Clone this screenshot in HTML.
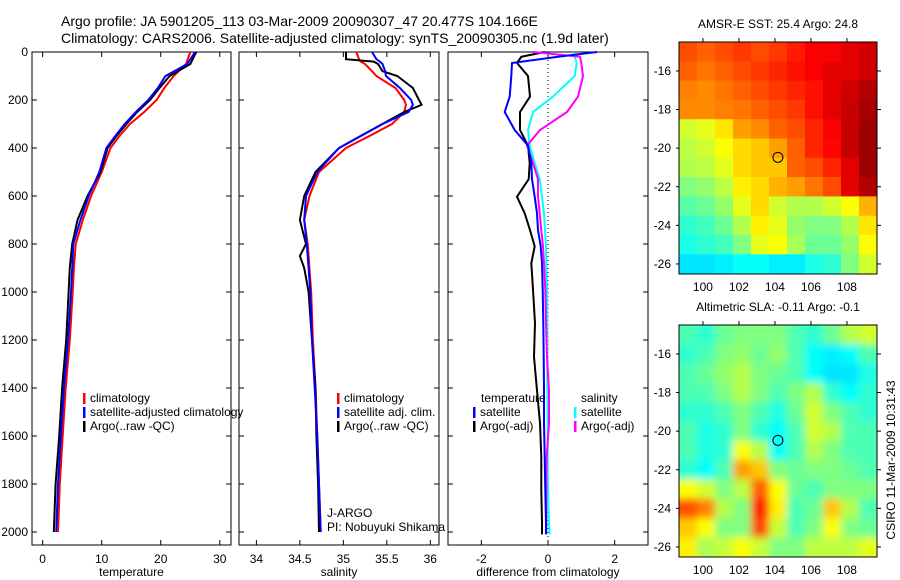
<!DOCTYPE html>
<html><head><meta charset="utf-8">
<style>
body{margin:0;background:#fff;}
svg{display:block;font-family:"Liberation Sans",sans-serif;}
</style></head>
<body>
<svg id="chart" width="900" height="580" viewBox="0 0 900 580">
<text x="61" y="26" font-size="14">Argo profile: JA 5901205_113 03-Mar-2009 20090307_47 20.477S 104.166E</text>
<text x="61" y="43" font-size="14">Climatology: CARS2006. Satellite-adjusted climatology: synTS_20090305.nc (1.9d later)</text>
</svg>
<script>
// ---------- data ----------
const tDepth = [0,50,100,150,200,250,300,350,400,500,600,700,800,900,1000,1200,1400,1600,1800,2000];
const tClim  = [25,24.3,22.2,20.6,19.3,17.2,14.8,13.0,11.5,10.0,8.2,6.8,5.6,5.3,5.1,4.6,3.9,3.4,2.9,2.6];
const tSat   = [25.8,24.5,20.8,19.5,17.9,15.8,13.9,12.3,10.8,9.6,7.8,6.4,5.2,5.0,4.8,4.3,3.6,3.1,2.6,2.3];
const tArgo  = [26.0,25.0,21.5,19.8,18.2,16.0,14.2,12.5,11.0,9.8,7.6,5.9,5.0,4.6,4.4,4.0,3.3,2.8,2.2,1.9];
const sDepth = [0,30,40,50,80,100,150,200,220,250,300,350,400,500,600,700,800,850,900,1000,1200,1400,1600,1800,2000];
const sClim  = [35.15,35.18,35.2,35.25,35.33,35.38,35.6,35.7,35.72,35.7,35.56,35.3,35.03,34.72,34.61,34.55,34.59,34.6,34.61,34.63,34.65,34.68,34.7,34.72,34.74];
const sSat   = [35.33,35.38,35.42,35.45,35.48,35.49,35.65,35.78,35.8,35.75,35.45,35.2,34.95,34.7,34.57,34.55,34.58,34.59,34.6,34.62,34.64,34.67,34.7,34.72,34.74];
const sArgo  = [35.03,35.03,35.35,35.4,35.45,35.62,35.8,35.87,35.9,35.7,35.45,35.2,34.95,34.68,34.55,34.5,34.57,34.5,34.55,34.6,34.64,34.68,34.69,34.71,34.72];
const dDepth = [0,20,46,100,186,250,325,390,463,530,603,672,742,810,880,990,1130,1270,1410,1546,1687,1825,1962,2010];
const dTempSat  = [1.47,0.3,-1.08,-1.1,-1.15,-1.3,-1.0,-0.6,-0.5,-0.48,-0.4,-0.33,-0.3,-0.22,-0.18,-0.16,-0.14,-0.13,-0.12,-0.12,-0.1,-0.08,-0.06,-0.06];
const dTempArgo = [-0.1,-0.8,-0.93,-0.6,-0.54,-0.84,-0.84,-0.6,-0.55,-0.58,-0.93,-0.7,-0.54,-0.4,-0.5,-0.45,-0.39,-0.42,-0.33,-0.24,-0.2,-0.2,-0.18,-0.18];
const dSalSat   = [0.75,0.8,0.86,0.8,0.15,-0.45,-0.6,-0.55,-0.4,-0.25,-0.18,-0.12,-0.09,-0.06,-0.05,-0.03,-0.02,-0.02,-0.02,-0.01,-0.01,0.0,0.03,0.05];
const dSalArgo  = [-0.45,0.96,1.0,1.05,0.9,0.57,-0.24,-0.63,-0.45,-0.3,-0.3,-0.25,-0.2,-0.15,-0.12,-0.08,-0.06,-0.03,0.03,0.03,-0.04,-0.05,-0.05,-0.05];
const depthTicks = [0,200,400,600,800,1000,1200,1400,1600,1800,2000];
const tempTicks = [0,10,20,30];
const salTicks = [34,34.5,35,35.5,36];
const salTickLabels = ["34","34.5","35","35.5","36"];
const diffTicks = [-2,0,2];
const lonTicks = [100,102,104,106,108];
const latTicks = [-16,-18,-20,-22,-24,-26];
const sstGrid = [
[0.8,0.78,0.8,0.82,0.8,0.82,0.85,0.88,0.88,0.9,0.92],
[0.78,0.76,0.78,0.8,0.82,0.84,0.86,0.88,0.9,0.9,0.92],
[0.75,0.74,0.76,0.78,0.8,0.82,0.84,0.86,0.9,0.92,0.95],
[0.74,0.74,0.75,0.76,0.78,0.8,0.82,0.86,0.9,0.93,0.96],
[0.58,0.6,0.65,0.72,0.74,0.78,0.8,0.84,0.88,0.93,0.97],
[0.56,0.58,0.62,0.66,0.68,0.72,0.78,0.84,0.87,0.93,0.97],
[0.55,0.56,0.6,0.66,0.68,0.68,0.78,0.8,0.84,0.9,0.97],
[0.5,0.52,0.56,0.64,0.66,0.7,0.72,0.76,0.8,0.9,0.95],
[0.46,0.48,0.52,0.6,0.66,0.58,0.55,0.55,0.58,0.62,0.7],
[0.42,0.44,0.48,0.55,0.64,0.6,0.52,0.5,0.5,0.55,0.65],
[0.4,0.42,0.44,0.5,0.6,0.62,0.54,0.48,0.48,0.52,0.62],
[0.35,0.35,0.36,0.38,0.38,0.36,0.36,0.4,0.42,0.5,0.58]];
const slaGrid = [
[0.45,0.42,0.48,0.5,0.5,0.5,0.45,0.42,0.48,0.55,0.58],
[0.42,0.45,0.5,0.52,0.48,0.52,0.45,0.38,0.36,0.38,0.45],
[0.45,0.48,0.52,0.55,0.5,0.48,0.45,0.38,0.35,0.35,0.4],
[0.45,0.45,0.5,0.55,0.5,0.45,0.5,0.55,0.42,0.38,0.42],
[0.42,0.42,0.45,0.5,0.45,0.4,0.48,0.58,0.5,0.45,0.42],
[0.45,0.4,0.42,0.5,0.42,0.38,0.45,0.58,0.55,0.45,0.45],
[0.45,0.4,0.42,0.62,0.55,0.38,0.45,0.55,0.5,0.45,0.45],
[0.42,0.38,0.45,0.72,0.68,0.5,0.48,0.5,0.5,0.48,0.45],
[0.62,0.58,0.5,0.56,0.78,0.62,0.48,0.45,0.5,0.5,0.5],
[0.8,0.75,0.55,0.5,0.85,0.64,0.45,0.48,0.68,0.55,0.45],
[0.68,0.62,0.5,0.5,0.8,0.57,0.45,0.5,0.62,0.5,0.48],
[0.64,0.54,0.57,0.62,0.57,0.5,0.5,0.56,0.56,0.56,0.6]];
const gridLon0 = 98.67, gridLat0 = -14.5;
const profileLon = [104.166];
const profileLat = [-20.477];

// ---------- helpers ----------
const NS="http://www.w3.org/2000/svg";
const svg=document.getElementById('chart');
function mk(tag,attrs,parent){const e=document.createElementNS(NS,tag);for(const k in attrs)e.setAttribute(k,attrs[k]);(parent||svg).appendChild(e);return e;}
function txt(x,y,s,size,anchor,parent){const e=mk('text',{x:x,y:y,'font-size':size||12,'text-anchor':anchor||'start'},parent);e.textContent=s;return e;}
const TOP=52, BOT=545;
const yD = d => TOP + d*0.24;
function jet(v){const c=t=>Math.round(255*Math.max(0,Math.min(1,t)));return `rgb(${c(1.5-Math.abs(4*v-3))},${c(1.5-Math.abs(4*v-2))},${c(1.5-Math.abs(4*v-1))})`;}

function panel(name,x0,x1,vmin,vmax,ticks,labels,xlabel,showY){
  const g=mk('g',{});
  
  
  const sx=v=>x0+(v-vmin)/(vmax-vmin)*(x1-x0);
  const frame=mk('rect',{x:x0,y:TOP,width:x1-x0,height:BOT-TOP,fill:'none',stroke:'#000','stroke-width':1},g);
  
  
  ticks.forEach((t,i)=>{
    const x=sx(t);
    mk('line',{x1:x,y1:BOT,x2:x,y2:BOT-5,stroke:'#000'},g);
    mk('line',{x1:x,y1:TOP,x2:x,y2:TOP+5,stroke:'#000'},g);
    const l=txt(x,563,labels[i],12,'middle',g);
    
    
  });
  depthTicks.forEach(d=>{
    const y=yD(d);
    mk('line',{x1:x0,y1:y,x2:x0+5,y2:y,stroke:'#000'},g);
    mk('line',{x1:x1,y1:y,x2:x1-5,y2:y,stroke:'#000'},g);
    if(showY){const l=txt(x0-4,y+4,String(d),12,'end',g);
      
      }
  });
  const xl=txt((x0+x1)/2,576,xlabel,12,'middle',g);
  
  
  return {g,sx};
}
function line(p,depths,vals,color,name,w){
  const pts=depths.map((d,i)=>p.sx(vals[i]).toFixed(1)+','+yD(d).toFixed(1)).join(' ');
  const e=mk('polyline',{points:pts,fill:'none',stroke:color,'stroke-width':w||2},p.g);
  
  
}
function legend(p,x,y,color,label){
  const b=mk('rect',{x:x,y:y-9,width:2.5,height:11,fill:color},p.g);
  
  
  const t=txt(x+7,y,label,12,'start',p.g);
  
  
}

// ---------- panel 1 temperature ----------
const p1=panel('temperature-panel',32,231,-1.8,31.9,tempTicks,tempTicks.map(String),'temperature',true);
line(p1,tDepth,tClim,'#ff0000','temp-climatology-line');
line(p1,tDepth,tArgo,'#000000','temp-argo-line');
line(p1,tDepth,tSat,'#0000ff','temp-satellite-line');
legend(p1,83,402,'#ff0000','climatology');
legend(p1,83,416,'#0000ff','satellite-adjusted climatology');
legend(p1,83,430,'#000000','Argo(..raw -QC)');

// ---------- panel 2 salinity ----------
const p2=panel('salinity-panel',239,439,33.8,36.1,salTicks,salTickLabels,'salinity',false);
line(p2,sDepth,sClim,'#ff0000','sal-climatology-line');
line(p2,sDepth,sArgo,'#000000','sal-argo-line');
line(p2,sDepth,sSat,'#0000ff','sal-satellite-line');
legend(p2,337,402,'#ff0000','climatology');
legend(p2,337,416,'#0000ff','satellite adj. clim.');
legend(p2,337,430,'#000000','Argo(..raw -QC)');
const j1=txt(327,517,'J-ARGO',12,'start',p2.g);


const j2=txt(327,531,'PI: Nobuyuki Shikama',12,'start',p2.g);



// ---------- panel 3 difference ----------
const p3=panel('difference-panel',448,648,-3,3,diffTicks,diffTicks.map(String),'difference from climatology',false);
const zl=mk('line',{x1:p3.sx(0),y1:TOP,x2:p3.sx(0),y2:BOT,stroke:'#000','stroke-dasharray':'1,3'},p3.g);


line(p3,dDepth,dTempArgo,'#000000','diff-temp-argo-line');
line(p3,dDepth,dSalSat,'#00ffff','diff-sal-satellite-line');
line(p3,dDepth,dSalArgo,'#ff00ff','diff-sal-argo-line');
line(p3,dDepth,dTempSat,'#0000ff','diff-temp-satellite-line');
const lt=txt(481,402,'temperature',12,'start',p3.g);


legend(p3,473,416,'#0000ff','satellite');
legend(p3,473,430,'#000000','Argo(-adj)');
const ls=txt(581,402,'salinity',12,'start',p3.g);


legend(p3,574,416,'#00ffff','satellite');
legend(p3,574,430,'#ff00ff','Argo(-adj)');

// ---------- maps ----------
function map(name,top,grid,title,blur){
  const L=679,R=877,H=232;
  const g=mk('g',{});
  
  
  const sx=lon=>L+(lon-gridLon0)*18;
  const sy=lat=>top+(gridLat0-lat)*19.3;
  const cid='clip-'+name;
  const cp=mk('clipPath',{id:cid},g);mk('rect',{x:L,y:top,width:R-L,height:H},cp);
  const cg=mk('g',{'clip-path':`url(#${cid})`},g);
  let inner=cg;
  if(blur){const f=mk('filter',{id:'bl-'+name,x:'-10%',y:'-10%',width:'120%',height:'120%'},g);mk('feGaussianBlur',{stdDeviation:4},f);
    inner=mk('g',{filter:`url(#bl-${name})`},cg);}
  grid.forEach((row,r)=>row.forEach((v,c)=>{
    const x=sx(gridLon0+c), y=sy(gridLat0-r);
    const cell=mk('rect',{x:x-(c===0?10:0),y:y-(r===0?10:0),width:18.5+(c===0||c===row.length-1?12:0),height:19.8+(r===0||r===grid.length-1?12:0),fill:jet(v)},inner);
    
    
  }));
  mk('rect',{x:L,y:top,width:R-L,height:H,fill:'none',stroke:'#000'},g);
  lonTicks.forEach(lon=>{const x=sx(lon);
    mk('line',{x1:x,y1:top,x2:x,y2:top-4,stroke:'#000'},g);
    const l=txt(x,top+H+17,String(lon),12,'middle',g);
    
    });
  latTicks.forEach(lat=>{const y=sy(lat);
    mk('line',{x1:R,y1:y,x2:R+4,y2:y,stroke:'#000'},g);
    mk('line',{x1:L,y1:y,x2:L-3,y2:y,stroke:'#000'},g);
    const l=txt(L-8,y+4,String(lat),12,'end',g);
    
    });
  const c=mk('circle',{cx:sx(profileLon[0]),cy:sy(profileLat[0]),r:5,fill:'none',stroke:'#000','stroke-width':1},g);
  
  
  const t=txt(778,top-14,title,12,'middle',g);
  
  
}
map('sst-map',42,sstGrid,'AMSR-E SST: 25.4  Argo: 24.8',false);
map('sla-map',325,slaGrid,'Altimetric SLA: -0.11  Argo: -0.1',true);
const st=txt(0,0,'CSIRO 11-Mar-2009 10:31:43',12,'middle');
st.setAttribute('transform','translate(895,460) rotate(-90)');


</script>
</body></html>
